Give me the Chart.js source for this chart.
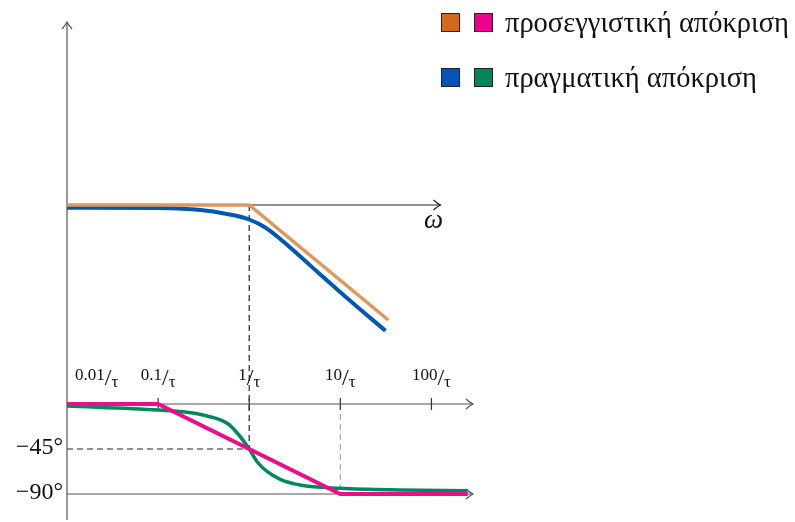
<!DOCTYPE html>
<html>
<head>
<meta charset="utf-8">
<script src="https://cdn.jsdelivr.net/npm/chart.js@4.4.1/dist/chart.umd.min.js"></script>
<style>
    html, body { margin: 0; padding: 0; background: #fff; }
    #wrap { position: relative; width: 795px; height: 522px; }
</style>
</head>
<body>
<div id="wrap"><canvas id="bode" width="795" height="522"></canvas></div>
<script>
// magnitude (dB) against omega, omega in units of 1/tau
const approxMagW = [0.01, 1, 33.6];
const approxMagDb = [0, 0, -30.55];
const realMagW = [0.01, 0.1, 0.255, 0.48, 0.70, 1.0, 1.5, 2.19, 3.2, 6.03, 12.9, 31.3];
const realMagDb = [-0.72, -0.8, -1.2, -2.04, -2.79, -3.85, -5.98, -9.03, -12.48, -18.46, -25.5, -33.4];

// phase (degrees) against omega
const approxPhW = [0.01, 0.1, 10, 250];
const approxPhDeg = [0, 0, -90, -90];
const realPhW = [0.01, 0.1, 0.208, 0.345, 0.573, 0.738, 1.0, 1.22, 1.58, 2.19, 3.63, 10, 45.6, 249];
const realPhDeg = [-2, -6, -8.3, -12, -19.3, -29, -45, -57.7, -67.7, -75.3, -81, -84.3, -86, -86.7];

// axis ticks
const tickW = [0.01, 0.1, 1, 10, 100];
const tickLabels = ['0.01', '0.1', '1', '10', '100'];
const phaseTicks = [-45, -90];
const phaseLabels = ['\u221245\u00b0', '\u221290\u00b0'];

const legendRows = [
    { colors: ['#D2691E', '#EC008C'], text: 'προσεγγιστική απόκριση' },
    { colors: ['#0055B5', '#00875A'], text: 'πραγματική απόκριση' }
];

function pts(xs, ys) {
    return xs.map((v, i) => ({ x: v, y: ys[i] }));
}

const serif = '"Liberation Serif", "DejaVu Serif", serif';

function arrowRight(ctx, x, y) {
    ctx.beginPath();
    ctx.moveTo(x - 7, y - 5);
    ctx.quadraticCurveTo(x - 3, y - 1.5, x, y);
    ctx.quadraticCurveTo(x - 3, y + 1.5, x - 7, y + 5);
    ctx.stroke();
}

function arrowUp(ctx, x, y) {
    ctx.beginPath();
    ctx.moveTo(x - 5, y + 7);
    ctx.quadraticCurveTo(x - 1.5, y + 3, x, y);
    ctx.quadraticCurveTo(x + 1.5, y + 3, x + 5, y + 7);
    ctx.stroke();
}

function fracLabel(ctx, num, cx, base, leftAlign) {
    ctx.font = '17px ' + serif;
    const nw = ctx.measureText(num).width;
    const tw = ctx.measureText('τ').width;
    ctx.font = '24px ' + serif;
    const sw = ctx.measureText('/').width;
    const total = nw + sw + tw;
    let x = leftAlign ? cx : cx - total / 2;
    ctx.fillStyle = '#111';
    ctx.textAlign = 'left';
    ctx.textBaseline = 'alphabetic';
    ctx.font = '17px ' + serif;
    ctx.fillText(num, x, base);
    ctx.font = '24px ' + serif;
    ctx.fillText('/', x + nw, base + 5);
    ctx.font = '17px ' + serif;
    ctx.fillText('τ', x + nw + sw, base + 7);
}

const bodeAxes = {
    id: 'bodeAxes',
    beforeDatasetsDraw(chart) {
        const { ctx, chartArea, scales: { x, yMag, yPh } } = chart;
        const x0 = x.getPixelForValue(tickW[0]);
        const xc = x.getPixelForValue(1);
        const x10 = x.getPixelForValue(10);
        const yM0 = yMag.getPixelForValue(0);
        const yP0 = yPh.getPixelForValue(0);
        const yP45 = yPh.getPixelForValue(-45);
        const yP90 = yPh.getPixelForValue(-90);
        const magEnd = x.getPixelForValue(100) + 9;
        const phEnd = chartArea.right - 4;

        ctx.save();
        ctx.lineWidth = 1.2;

        // dashed guides
        ctx.setLineDash([6, 4]);
        ctx.strokeStyle = '#222';
        ctx.beginPath();
        ctx.moveTo(xc, yM0);
        ctx.lineTo(xc, yP45);
        ctx.moveTo(x0, yP45);
        ctx.lineTo(xc, yP45);
        ctx.stroke();
        ctx.strokeStyle = '#aaa';
        ctx.beginPath();
        ctx.moveTo(x10, yP0);
        ctx.lineTo(x10, yP90);
        ctx.stroke();
        ctx.setLineDash([]);

        // vertical axis
        ctx.strokeStyle = '#555';
        ctx.beginPath();
        ctx.moveTo(x0, chartArea.bottom);
        ctx.lineTo(x0, chartArea.top);
        ctx.stroke();
        arrowUp(ctx, x0, chartArea.top);

        // magnitude axis
        ctx.strokeStyle = '#222';
        ctx.beginPath();
        ctx.moveTo(x0, yM0);
        ctx.lineTo(magEnd, yM0);
        ctx.stroke();
        arrowRight(ctx, magEnd, yM0);

        // phase axes
        ctx.strokeStyle = '#555';
        [yP0, yP90].forEach(yy => {
            ctx.beginPath();
            ctx.moveTo(x0, yy);
            ctx.lineTo(phEnd, yy);
            ctx.stroke();
            arrowRight(ctx, phEnd, yy);
        });
        ctx.strokeStyle = '#333';
        tickW.slice(1).forEach(w => {
            const px = x.getPixelForValue(w);
            ctx.beginPath();
            ctx.moveTo(px, yP0 - 6);
            ctx.lineTo(px, yP0 + 6);
            ctx.stroke();
        });

        // tick labels
        tickW.forEach((w, i) => {
            const px = x.getPixelForValue(w);
            if (i === 0) fracLabel(ctx, tickLabels[i], px + 8, yP0 - 24, true);
            else fracLabel(ctx, tickLabels[i], px, yP0 - 24, false);
        });
        ctx.font = '24px ' + serif;
        ctx.fillStyle = '#111';
        ctx.textAlign = 'right';
        ctx.textBaseline = 'alphabetic';
        phaseTicks.forEach((d, i) => {
            ctx.fillText(phaseLabels[i], x0 - 4, yPh.getPixelForValue(d) + 5);
        });

        ctx.font = 'italic 27px ' + serif;
        ctx.textAlign = 'center';
        ctx.fillText('ω', x.getPixelForValue(100) + 2, yM0 + 23);

        // legend
        ctx.textAlign = 'left';
        ctx.font = '28.5px ' + serif;
        legendRows.forEach((row, r) => {
            const ty = 13 + r * 55;
            row.colors.forEach((c, k) => {
                ctx.fillStyle = c;
                ctx.fillRect(441 + k * 33, ty, 19, 19);
                ctx.strokeStyle = '#222';
                ctx.lineWidth = 1;
                ctx.strokeRect(441.5 + k * 33, ty + 0.5, 18, 18);
            });
            ctx.fillStyle = '#111';
            ctx.fillText(row.text, 505, ty + 19);
        });
        ctx.restore();
    }
};

new Chart(document.getElementById('bode'), {
    type: 'line',
    data: {
        datasets: [
            {
                data: pts(approxPhW, approxPhDeg),
                yAxisID: 'yPh',
                borderColor: '#EC0C8C',
                borderWidth: 4,
                tension: 0
            },
            {
                data: pts(approxMagW, approxMagDb),
                yAxisID: 'yMag',
                borderColor: '#E0975C',
                borderWidth: 3.5,
                tension: 0
            },
            {
                data: pts(realPhW, realPhDeg),
                yAxisID: 'yPh',
                borderColor: '#008A5C',
                borderWidth: 3.5,
                cubicInterpolationMode: 'monotone'
            },
            {
                data: pts(realMagW, realMagDb),
                yAxisID: 'yMag',
                borderColor: '#0057B7',
                borderWidth: 4,
                cubicInterpolationMode: 'monotone'
            }
        ]
    },
    options: {
        responsive: false,
        animation: false,
        events: [],
        clip: false,
        elements: { point: { radius: 0 } },
        layout: { padding: { left: 67, right: 318, top: 22, bottom: 2 } },
        scales: {
            x: { type: 'logarithmic', min: 0.01, max: 316.2, display: false },
            yMag: { type: 'linear', min: -83.69, max: 48.62, display: false },
            yPh: { type: 'linear', min: -116, max: 382, display: false }
        },
        plugins: {
            legend: { display: false },
            tooltip: { enabled: false }
        }
    },
    plugins: [bodeAxes]
});
</script>
</body>
</html>
